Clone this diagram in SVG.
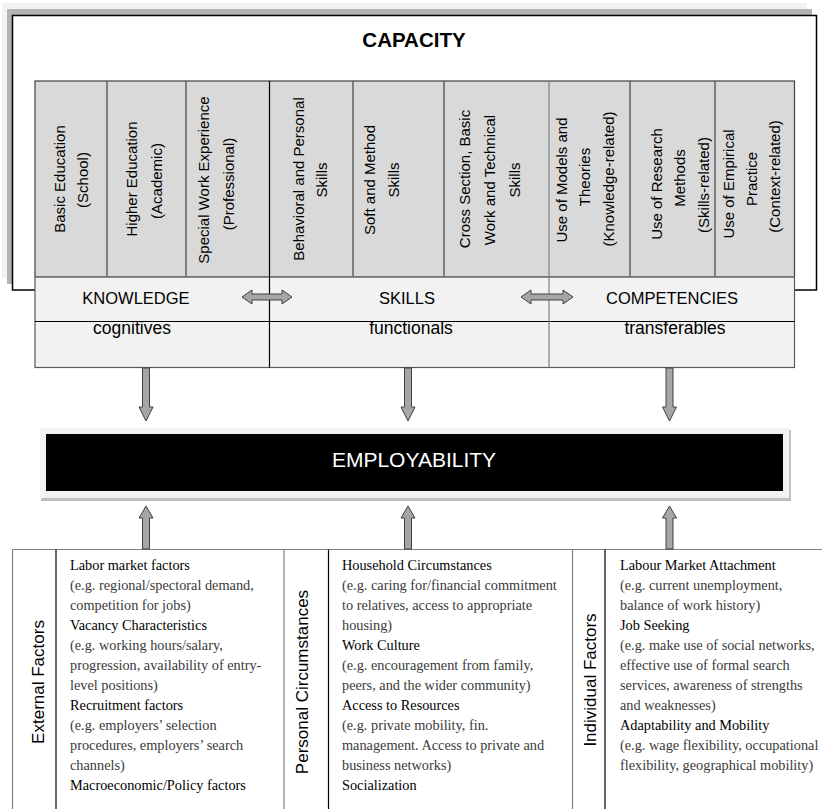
<svg xmlns="http://www.w3.org/2000/svg" width="822" height="809" viewBox="0 0 822 809">
<style>
.sans{font-family:"Liberation Sans",Arial,sans-serif;fill:#000}
.cell{font-family:"Liberation Sans",Arial,sans-serif;font-size:15px;fill:#000;text-anchor:middle}
.hdr{font-family:"Liberation Sans",Arial,sans-serif;font-size:16.5px;fill:#000;text-anchor:middle}
.sub{font-family:"Liberation Sans",Arial,sans-serif;font-size:17.5px;fill:#000;text-anchor:middle}
.vlab{font-family:"Liberation Sans",Arial,sans-serif;font-size:17px;fill:#000;text-anchor:middle}
.body{font-family:"Liberation Serif","Times New Roman",serif;font-size:14.3px;fill:#3a3a3a}
.body .h{fill:#000}
.arrow{fill:#a6a6a6;stroke:#404040;stroke-width:1;stroke-linejoin:miter}
.gline{stroke:#808080;stroke-width:1.2;fill:none}
.bline{stroke:#000;stroke-width:1.2;fill:none}
.dline{stroke:#404040;stroke-width:1.2;fill:none}
</style>

<!-- Capacity frame with shadows -->
<g id="capacity">
  <rect x="2" y="3" width="805" height="275" fill="#f2f2f2"/>
  <rect x="7" y="9" width="805" height="275" fill="#b3b3b3"/>
  <rect x="12.5" y="15.5" width="804" height="274.5" fill="#fff" stroke="#000" stroke-width="1.5"/>
  <text class="sans" x="414" y="47" font-size="20.5" font-weight="bold" text-anchor="middle">CAPACITY</text>
</g>

<!-- Gray cells row -->
<g id="capacity-cells">
  <rect x="35" y="81" width="759.5" height="196" fill="#d9d9d9" stroke="#404040" stroke-width="1.2"/>
  <line class="dline" x1="107" y1="81" x2="107" y2="277"/>
  <line class="dline" x1="186" y1="81" x2="186" y2="277"/>
  <line class="dline" x1="353" y1="81" x2="353" y2="277"/>
  <line class="dline" x1="444" y1="81" x2="444" y2="277"/>
  <line class="dline" x1="630" y1="81" x2="630" y2="277"/>
  <line class="dline" x1="715" y1="81" x2="715" y2="277"/>

  <g id="cell-basic-education">
    <text class="cell" transform="translate(65,179) rotate(-90)">Basic Education</text>
    <text class="cell" transform="translate(88,180) rotate(-90)">(School)</text>
  </g>
  <g id="cell-higher-education">
    <text class="cell" transform="translate(137,179) rotate(-90)">Higher Education</text>
    <text class="cell" transform="translate(162,181) rotate(-90)">(Academic)</text>
  </g>
  <g id="cell-special-work">
    <text class="cell" transform="translate(208.5,180) rotate(-90)">Special Work Experience</text>
    <text class="cell" transform="translate(233.5,184) rotate(-90)">(Professional)</text>
  </g>
  <g id="cell-behavioral">
    <text class="cell" transform="translate(303.5,179) rotate(-90)">Behavioral and Personal</text>
    <text class="cell" transform="translate(327,180) rotate(-90)">Skills</text>
  </g>
  <g id="cell-soft-method">
    <text class="cell" transform="translate(375,180) rotate(-90)">Soft and Method</text>
    <text class="cell" transform="translate(398.5,180) rotate(-90)">Skills</text>
  </g>
  <g id="cell-cross-section">
    <text class="cell" transform="translate(470,179) rotate(-90)">Cross Section, Basic</text>
    <text class="cell" transform="translate(495,180) rotate(-90)">Work and Technical</text>
    <text class="cell" transform="translate(520,180) rotate(-90)">Skills</text>
  </g>
  <g id="cell-models">
    <text class="cell" transform="translate(567,180) rotate(-90)">Use of Models and</text>
    <text class="cell" transform="translate(590,177) rotate(-90)">Theories</text>
    <text class="cell" transform="translate(613.5,179) rotate(-90)">(Knowledge-related)</text>
  </g>
  <g id="cell-research">
    <text class="cell" transform="translate(662,184) rotate(-90)">Use of Research</text>
    <text class="cell" transform="translate(685,178) rotate(-90)">Methods</text>
    <text class="cell" transform="translate(709,185) rotate(-90)">(Skills-related)</text>
  </g>
  <g id="cell-empirical">
    <text class="cell" transform="translate(733.5,184) rotate(-90)">Use of Empirical</text>
    <text class="cell" transform="translate(757,179) rotate(-90)">Practice</text>
    <text class="cell" transform="translate(780,176.5) rotate(-90)">(Context-related)</text>
  </g>
</g>

<!-- Knowledge / Skills / Competencies rows -->
<g id="kcs-table">
  <rect x="35" y="277" width="759.5" height="90.5" fill="#f2f2f2" stroke="#595959" stroke-width="1.2"/>
  <line class="gline" x1="35" y1="277" x2="794.5" y2="277"/>
  <line class="bline" x1="35" y1="321.5" x2="794.5" y2="321.5"/>
</g>
<g id="knowledge">
  <text class="hdr" x="136" y="304">KNOWLEDGE</text>
  <text class="sub" x="132" y="334">cognitives</text>
</g>
<g id="skills">
  <text class="hdr" x="407" y="304">SKILLS</text>
  <text class="sub" x="411" y="334">functionals</text>
</g>
<g id="competencies">
  <text class="hdr" x="672" y="304">COMPETENCIES</text>
  <text class="sub" x="675" y="334">transferables</text>
</g>
<line class="bline" x1="269.5" y1="81" x2="269.5" y2="367.5"/>
<line class="gline" x1="549" y1="81" x2="549" y2="367.5"/>

<!-- Employability -->
<g id="employability">
  <rect x="41" y="430" width="750" height="71" fill="#c0c0c0"/>
  <rect x="40" y="428" width="749" height="70" fill="#f2f2f2"/>
  <rect x="46" y="434" width="737" height="57" fill="#000"/>
  <text class="sans" x="414" y="467" font-size="21" text-anchor="middle" fill="#fff" style="fill:#fff">EMPLOYABILITY</text>
</g>

<!-- Bottom factors table -->
<g id="factors-table">
  <line class="gline" x1="12.5" y1="549.5" x2="822" y2="549.5"/>
  <line class="gline" x1="12.5" y1="549.5" x2="12.5" y2="809"/>
  <line class="bline" x1="56" y1="549.5" x2="56" y2="809"/>
  <line class="gline" x1="284" y1="549.5" x2="284" y2="809"/>
  <line class="bline" x1="328.5" y1="549.5" x2="328.5" y2="809"/>
  <line class="gline" x1="572.5" y1="549.5" x2="572.5" y2="809"/>
  <line class="bline" x1="605" y1="549.5" x2="605" y2="809"/>
</g>

<g id="external-factors">
  <text class="vlab" transform="translate(44,682) rotate(-90)">External Factors</text>
  <text class="body" x="70" y="570">
    <tspan class="h" x="70" y="570">Labor market factors</tspan>
    <tspan x="70" y="590">(e.g. regional/spectoral demand,</tspan>
    <tspan x="70" y="610">competition for jobs)</tspan>
    <tspan class="h" x="70" y="630">Vacancy Characteristics</tspan>
    <tspan x="70" y="650">(e.g. working hours/salary,</tspan>
    <tspan x="70" y="670">progression, availability of entry-</tspan>
    <tspan x="70" y="690">level positions)</tspan>
    <tspan class="h" x="70" y="710">Recruitment factors</tspan>
    <tspan x="70" y="730">(e.g. employers’ selection</tspan>
    <tspan x="70" y="750">procedures, employers’ search</tspan>
    <tspan x="70" y="770">channels)</tspan>
    <tspan class="h" x="70" y="790">Macroeconomic/Policy factors</tspan>
  </text>
</g>

<g id="personal-circumstances">
  <text class="vlab" transform="translate(308,682) rotate(-90)">Personal Circumstances</text>
  <text class="body" x="342" y="570">
    <tspan class="h" x="342" y="570">Household Circumstances</tspan>
    <tspan x="342" y="590">(e.g. caring for/financial commitment</tspan>
    <tspan x="342" y="610">to relatives, access to appropriate</tspan>
    <tspan x="342" y="630">housing)</tspan>
    <tspan class="h" x="342" y="650">Work Culture</tspan>
    <tspan x="342" y="670">(e.g. encouragement from family,</tspan>
    <tspan x="342" y="690">peers, and the wider community)</tspan>
    <tspan class="h" x="342" y="710">Access to Resources</tspan>
    <tspan x="342" y="730">(e.g. private mobility, fin.</tspan>
    <tspan x="342" y="750">management. Access to private and</tspan>
    <tspan x="342" y="770">business networks)</tspan>
    <tspan class="h" x="342" y="790">Socialization</tspan>
  </text>
</g>

<g id="individual-factors">
  <text class="vlab" transform="translate(596,680) rotate(-90)">Individual Factors</text>
  <text class="body" x="620" y="570">
    <tspan class="h" x="620" y="570">Labour Market Attachment</tspan>
    <tspan x="620" y="590">(e.g. current unemployment,</tspan>
    <tspan x="620" y="610">balance of work history)</tspan>
    <tspan class="h" x="620" y="630">Job Seeking</tspan>
    <tspan x="620" y="650">(e.g. make use of social networks,</tspan>
    <tspan x="620" y="670">effective use of formal search</tspan>
    <tspan x="620" y="690">services, awareness of strengths</tspan>
    <tspan x="620" y="710">and weaknesses)</tspan>
    <tspan class="h" x="620" y="730">Adaptability and Mobility</tspan>
    <tspan x="620" y="750">(e.g. wage flexibility, occupational</tspan>
    <tspan x="620" y="770">flexibility, geographical mobility)</tspan>
  </text>
</g>

<!-- Connectors -->
<g id="connectors">
  <polygon class="arrow" points="242,297 252,290 252,294 282,294 282,290 292,297 282,304 282,300 252,300 252,304"/>
  <polygon class="arrow" points="521,297 531,290 531,294 563,294 563,290 573,297 563,304 563,300 531,300 531,304"/>

  <polygon class="arrow" points="142.5,368 149.5,368 149.5,407 153,407 146,421 139,407 142.5,407"/>
  <polygon class="arrow" points="404.5,368 411.5,368 411.5,407 415,407 408,421 401,407 404.5,407"/>
  <polygon class="arrow" points="666,368 673,368 673,407 676.5,407 669.5,421 662.5,407 666,407"/>

  <polygon class="arrow" points="142.5,549 149.5,549 149.5,518 153,518 146,506 139,518 142.5,518"/>
  <polygon class="arrow" points="404.5,549 411.5,549 411.5,518 415,518 408,506 401,518 404.5,518"/>
  <polygon class="arrow" points="666,549 673,549 673,518 676.5,518 669.5,506 662.5,518 666,518"/>
</g>
</svg>
